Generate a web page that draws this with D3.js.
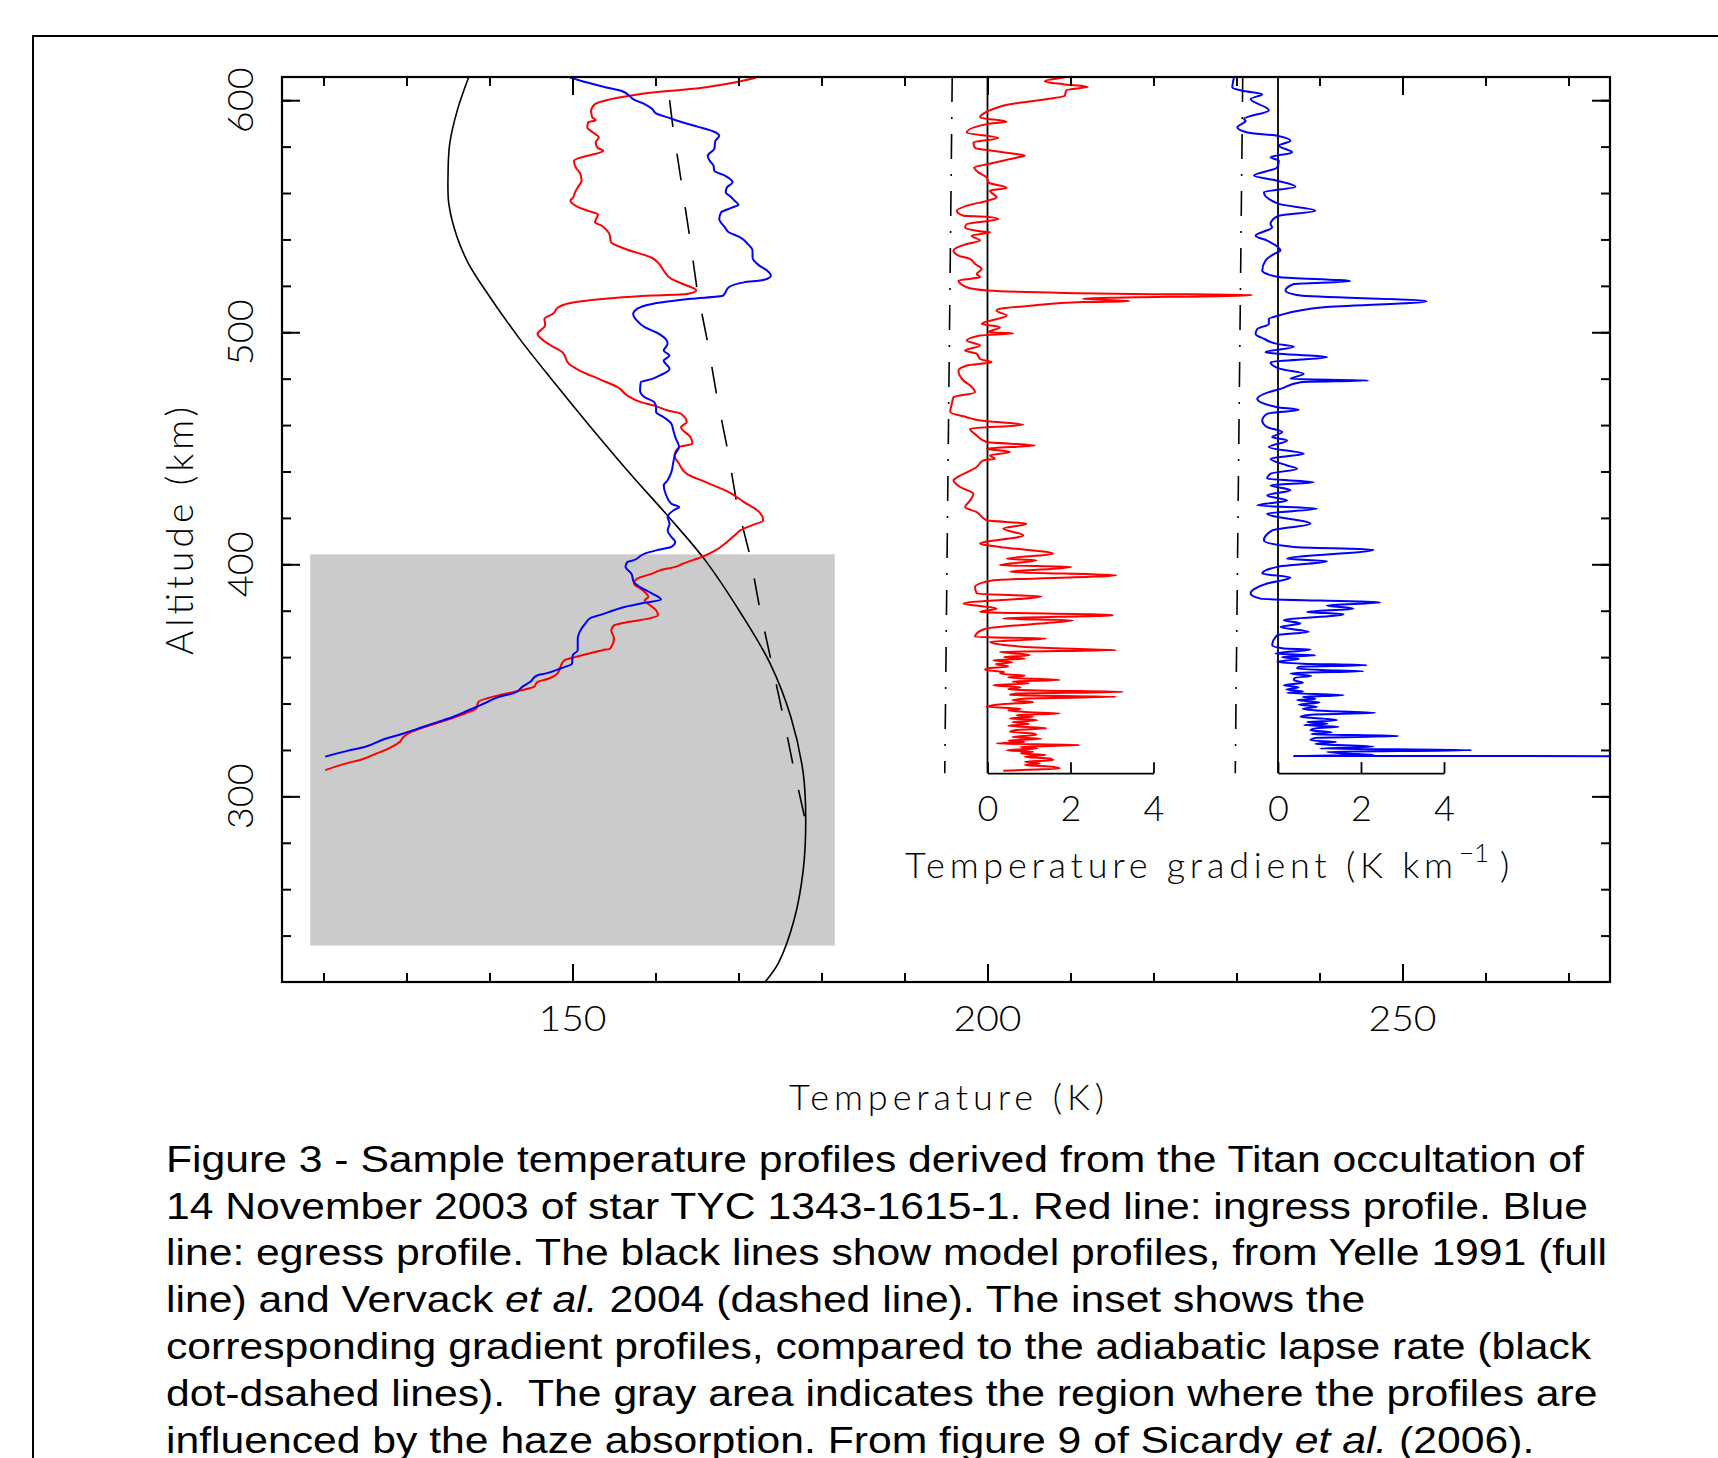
<!DOCTYPE html>
<html>
<head>
<meta charset="utf-8">
<script src="https://cdn.jsdelivr.net/npm/d3@7/dist/d3.min.js"></script>
<style>
  body { margin: 0; background: #fff; }
  .lab { font-family: Lato, 'DejaVu Sans', sans-serif; font-weight: 300; fill: #000; }
  .cap { font-family: 'Liberation Sans', Arial, sans-serif; font-size: 37.5px; fill: #000; white-space: pre; }
</style>
</head>
<body>
<script>
// [altitude km, temperature K]
const ingress = [[609.8,172.15],[607.2,168.83],[604.8,164.22],[603.3,159.61],[601.9,156.85],[600.0,154.08],[598.3,152.70],[595.4,152.24],[592.6,152.38],[591.4,152.79],[590.4,151.87],[588.3,151.78],[586.1,152.47],[584.0,153.16],[581.8,152.79],[579.4,153.07],[578.2,153.71],[576.8,152.70],[576.1,151.78],[573.9,150.17],[571.0,150.40],[568.2,150.95],[565.3,151.09],[562.4,150.63],[560.3,150.30],[558.1,150.07],[556.7,149.75],[554.5,150.40],[552.4,151.78],[550.7,153.07],[547.4,152.70],[545.9,153.53],[544.1,154.08],[542.3,154.45],[538.8,154.64],[535.9,156.39],[532.0,159.61],[529.1,160.53],[526.6,160.99],[523.0,161.91],[520.8,163.30],[518.0,164.91],[516.5,163.76],[515.8,159.61],[514.8,155.0],[513.0,150.40],[510.8,148.32],[507.9,147.63],[505.8,146.62],[503.0,146.71],[499.3,145.79],[497.2,146.25],[494.3,147.40],[491.4,148.78],[486.4,149.57],[483.5,150.86],[479.9,153.16],[476.3,155.47],[472.7,156.62],[469.9,158.23],[468.4,159.84],[466.3,161.46],[464.9,163.07],[461.3,163.76],[459.1,163.07],[454.8,164.22],[451.9,164.45],[450.5,162.84],[446.9,162.29],[443.3,162.84],[439.0,163.76],[435.4,166.06],[431.1,168.83],[426.8,170.67],[422.5,172.51],[418.9,172.98],[416.8,171.60],[414.6,170.21],[413.2,169.75],[410.3,168.83],[408.9,168.37],[406.0,167.22],[403.2,165.60],[400.3,163.30],[398.9,162.38],[397.4,160.53],[396.0,159.61],[393.8,157.77],[391.7,157.40],[388.8,158.46],[385.9,159.15],[384.5,158.69],[382.3,159.38],[380.2,160.07],[378.0,160.30],[376.6,159.15],[375.2,156.85],[373.7,155.0],[371.6,154.68],[368.0,155.0],[363.7,154.54],[363.0,153.62],[360.1,150.40],[358.7,149.01],[355.8,148.55],[352.9,148.18],[350.8,147.17],[349.3,145.79],[347.2,145.33],[345.8,143.95],[343.6,141.18],[340.7,138.65],[337.9,138.41],[335.7,137.03],[332.8,134.73],[330.7,132.89],[327.8,130.58],[325.7,129.66],[323.5,129.20],[320.6,127.82],[318.5,126.43],[315.9,124.59],[314.2,122.75],[311.3,120.21]];

const egress = [[609.8,149.71],[607.6,151.78],[605.5,154.08],[604.0,155.93],[601.9,156.85],[600.5,157.31],[598.3,158.69],[596.2,159.61],[594.3,160.07],[592.6,161.46],[590.4,163.30],[588.5,165.14],[586.5,166.99],[584.7,167.68],[582.5,167.22],[579.0,167.08],[576.1,166.29],[573.9,166.53],[571.8,166.99],[569.6,167.08],[567.5,168.37],[564.6,169.29],[562.4,168.60],[560.3,168.46],[558.4,169.06],[556.7,169.52],[555.0,169.98],[553.8,169.29],[551.7,167.91],[548.8,167.68],[545.2,168.37],[543.1,168.83],[540.9,170.21],[538.0,171.13],[535.2,171.69],[532.3,171.69],[528.7,172.51],[526.6,173.44],[524.4,173.90],[522.5,172.98],[521.5,170.67],[519.4,168.83],[515.8,168.14],[514.4,164.22],[512.2,159.61],[510.1,157.77],[507.9,157.31],[505.0,157.77],[502.2,158.69],[500.0,160.07],[497.1,161.22],[495.0,161.46],[492.1,160.99],[490.0,161.69],[487.8,160.99],[484.2,161.69],[481.4,160.53],[479.9,159.61],[478.5,158.23],[474.9,158.14],[472.0,158.69],[469.9,159.84],[467.7,160.07],[465.6,160.07],[463.4,160.99],[460.6,161.91],[457.7,162.15],[454.8,162.38],[450.5,162.84],[447.6,162.38],[444.1,162.15],[439.7,161.91],[436.2,161.46],[434.0,160.99],[430.4,161.22],[426.1,161.91],[424.7,162.84],[423.2,162.15],[420.4,161.46],[417.5,161.69],[414.6,161.46],[411.8,161.91],[409.6,162.38],[407.5,161.91],[406.0,160.07],[404.6,158.69],[401.7,157.31],[401.0,156.62],[398.9,156.39],[396.0,157.08],[392.4,157.40],[389.5,158.46],[387.4,159.61],[384.8,160.67],[383.4,158.69],[381.3,155.93],[380.2,155.0],[378.0,153.16],[377.0,152.24],[374.5,151.55],[370.9,150.86],[368.0,150.63],[363.0,150.63],[360.8,150.03],[357.2,149.94],[355.1,148.55],[352.9,146.71],[352.2,145.79],[349.3,144.87],[347.2,143.95],[344.6,143.02],[342.9,141.18],[340.0,139.34],[337.1,137.49],[334.3,135.65],[332.1,133.81],[329.9,131.96],[327.1,129.66],[324.7,127.35],[321.4,125.05],[319.5,122.75],[317.1,120.21]];

// model profiles: Yelle 1991 (full), Vervack et al. 2004 (dashed)
const yelle = [[610,137.5],[595.4,136.1],[581.1,135.2],[566.7,135.0],[555.3,135.1],[540.9,136.1],[529.4,137.5],[516.5,139.8],[497.8,143.5],[479.2,147.6],[459.1,152.2],[437.6,157.3],[420.4,161.6],[401.7,166.0],[378.8,170.3],[357.3,173.8],[334.3,176.3],[309.9,177.8],[289.8,178.1],[268.3,177.8],[246.8,176.7],[228.1,174.8],[220,173.2]];
const vervack = [[600,161.7],[588.3,162.1],[565,163.1],[541.6,164.1],[518.7,165.0],[495.3,166.3],[472.3,167.4],[449.1,168.7],[426.1,169.8],[403.5,171.4],[380.2,172.6],[357.3,174.0],[334.3,175.4],[311.3,176.7],[290.5,178.0]];

// [altitude km, gradient K/km]
const ingressGrad = [[609.8,1.86],[608.1,1.38],[606.9,1.82],[605.8,2.42],[604.3,1.90],[601.9,1.86],[599.7,1.10],[598.3,0.54],[596.2,0.14],[594.7,-0.06],[592.6,-0.18],[590.7,0.46],[589.7,-0.02],[586.1,-0.50],[583.7,0.26],[581.8,-0.34],[579.4,-0.30],[578.5,-0.02],[576.8,0.70],[576.1,0.90],[575.4,0.74],[572.5,0.02],[571.0,-0.32],[568.9,-0.22],[566.7,-0.02],[564.6,0.02],[562.2,0.46],[561.0,0.06],[558.1,0.22],[556.7,0],[554.5,-0.50],[552.4,-0.74],[550.2,-0.58],[549.8,-0.02],[548.8,0.26],[546.6,-0.50],[545.2,-0.54],[543.5,-0.18],[543.1,0.06],[541.6,-0.38],[539.5,-0.18],[538.0,-0.50],[535.2,-0.82],[533.0,-0.70],[531.6,-0.42],[529.4,-0.30],[527.3,-0.14],[525.1,-0.26],[523.7,-0.18],[522.3,-0.70],[519.4,-0.50],[518.0,0],[516.5,3.50],[516.1,6.38],[514.4,2.30],[513.4,3.42],[513.0,2.30],[511.5,1.10],[510.1,0.30],[509.3,0.22],[507.2,0.46],[503.6,-0.14],[502.2,0.30],[500.0,0.02],[499.6,0.62],[498.6,-0.18],[496.4,-0.50],[494.3,-0.18],[492.1,-0.54],[490.7,-0.26],[488.5,-0.18],[487.1,0.10],[485.7,-0.50],[483.5,-0.70],[479.2,-0.58],[477.1,-0.42],[474.2,-0.30],[472.0,-0.82],[469.2,-0.86],[465.6,-0.90],[463.4,-0.50],[462.0,-0.18],[460.1,0.86],[458.4,-0.42],[455.5,-0.26],[452.7,-0.02],[451.2,1.14],[449.8,-0.02],[448.4,0.54],[446.9,0.06],[445.5,0.18],[444.8,-0.10],[441.9,-0.26],[436.9,-0.78],[436.2,-0.82],[433.3,-0.66],[430.4,-0.34],[427.5,-0.42],[424.7,-0.54],[422.5,-0.26],[419.0,-0.02],[417.5,0.94],[415.4,0.38],[412.5,0.86],[408.9,-0.18],[407.5,0.30],[404.6,1.58],[402.4,0.46],[401.7,1.18],[399.6,0.30],[398.9,2.02],[396.7,0.54],[395.3,3.10],[393.1,0.14],[390.2,-0.30],[387.4,-0.26],[386.2,1.30],[383.1,-0.58],[380.9,0.22],[379.5,-0.18],[378.1,3.02],[376.6,0.38],[375.9,2.06],[374.5,1.26],[372.3,-0.02],[370.2,-0.26],[368.7,-0.30],[368.0,1.42],[366.6,0.06],[365.1,0.46],[363.7,1.82],[363.0,3.10],[362.3,0.30],[360.8,1.02],[360.0,0.4],[359.3,0.9],[358.7,0.14],[357.8,0.6],[357.0,0.2],[356.0,0.5],[355.2,0.0],[354.4,-0.06],[353.6,0.4],[352.9,0.30],[352.0,0.9],[351.2,0.5],[350.1,1.74],[349.5,0.6],[348.7,1.0],[347.9,0.14],[347.0,0.8],[346.2,0.5],[345.6,1.2],[345.0,3.26],[344.3,0.7],[343.6,0.54],[342.9,3.10],[342.2,0.94],[341.4,0.6],[340.6,1.1],[339.8,0.4],[338.6,-0.02],[337.8,0.8],[337.0,0.5],[336.3,1.0],[335.7,1.74],[335.0,0.7],[334.3,1.1],[333.6,0.54],[332.8,1.2],[332.0,0.6],[331.2,1.0],[330.4,0.5],[329.3,1.42],[328.6,0.7],[327.8,0.54],[327.1,1.1],[326.4,1.18],[325.6,0.6],[324.8,1.3],[324.0,0.5],[323.4,0.9],[322.8,0.22],[322.1,2.22],[321.3,0.8],[320.6,1.2],[319.9,0.46],[319.2,1.1],[318.5,0.8],[317.8,1.4],[317.0,0.9],[316.3,1.5],[315.6,1.58],[314.9,0.9],[314.2,1.26],[313.5,0.9],[312.7,1.6],[312.0,1.74],[311.5,1.0],[311.0,0.38]];

const egressGrad = [[609.8,-1.06],[605.5,-1.10],[604.0,-0.82],[602.6,-0.38],[600.5,-0.66],[595.7,-0.22],[591.9,-0.82],[591.1,-0.78],[588.3,-0.98],[586.1,-0.74],[584.7,-0.02],[582.5,0.30],[580.4,0.02],[577.5,0.34],[575.4,-0.18],[573.9,0.02],[571.0,-0.02],[567.5,-0.58],[565.3,-0.02],[562.7,0.42],[560.3,-0.34],[555.3,0.02],[552.4,0.90],[550.2,0.02],[549.5,-0.06],[546.6,-0.18],[545.2,-0.14],[541.6,-0.54],[539.5,-0.26],[535.2,0.06],[533.7,-0.10],[530.9,-0.30],[526.6,-0.38],[525.1,-0.26],[523.7,0.06],[522.0,1.74],[520.8,0.38],[518.0,0.18],[515.8,0.54],[513.4,3.58],[510.8,1.10],[507.2,0.02],[505.7,-0.22],[503.6,-0.22],[501.4,-0.50],[499.3,-0.54],[497.2,-0.34],[495.0,-0.02],[493.8,0.38],[491.4,-0.30],[489.2,1.18],[487.1,-0.18],[484.2,0.06],[482.1,0.62],[479.9,0.30],[479.2,2.18],[478.5,0.54],[475.6,0.06],[474.2,-0.22],[471.3,-0.50],[467.7,-0.02],[466.6,0.50],[464.9,-0.26],[462.0,-0.38],[459.1,-0.26],[457.0,0.10],[454.8,-0.14],[453.4,0.22],[450.5,-0.22],[447.6,0.62],[445.5,-0.18],[442.6,0.22],[441.2,0.46],[439.0,-0.18],[436.9,-0.26],[435.4,0.86],[434.0,-0.18],[431.9,0.30],[429.7,-0.26],[427.5,0.22],[425.4,-0.50],[424.0,0.94],[421.8,-0.26],[417.5,0.78],[414.6,-0.14],[410.3,-0.34],[407.5,0.38],[406.3,2.30],[402.4,0.22],[401.4,1.18],[398.9,-0.02],[396.0,-0.38],[394.3,0.30],[391.7,-0.26],[387.4,-0.66],[385.2,-0.42],[383.5,2.46],[382.3,1.18],[380.9,1.82],[379.5,0.70],[378.5,1.58],[375.9,0.14],[374.5,0.54],[373.0,0.06],[370.9,0.74],[369.4,-0.02],[365.1,-0.14],[363.7,0.14],[363.3,0.78],[361.5,-0.06],[360.8,0.90],[360.0,0.1],[359.2,0.5],[358.0,-0.02],[357.2,0.6],[356.5,2.14],[355.8,0.5],[355.1,0.46],[354.5,1.0],[353.9,2.06],[353.3,0.6],[352.9,0.30],[352.0,0.8],[351.0,0.4],[350.1,0.38],[349.0,0.6],[347.9,0.14],[347.0,0.5],[346.0,0.2],[345.2,0.6],[344.6,0.22],[343.6,1.58],[342.8,0.6],[342.0,0.9],[341.5,0.46],[340.5,1.0],[339.6,0.5],[338.6,0.94],[337.7,0.6],[336.8,1.2],[336.0,2.34],[335.2,0.8],[334.3,0.54],[333.5,1.1],[332.8,1.42],[332.0,0.7],[331.3,1.2],[330.7,0.62],[330.0,1.46],[329.3,0.9],[328.5,0.78],[327.6,1.3],[326.8,0.8],[326.0,2.90],[325.2,0.9],[324.2,0.78],[323.4,1.4],[322.6,0.9],[321.4,2.30],[320.6,1.02],[319.9,4.66],[319.2,1.18],[318.5,1.6],[317.8,2.30],[317.4,0.38],[317.3,12]];

// adiabatic lapse rate (dot-dashed), haze region (gray)
const lapseRate = [[610, -0.85], [310, -1.03]];
const hazeTemp = [118.4, 181.6];
const hazeAlt = [235.7, 404.3];

const tempTicks = d3.range(120, 280, 10);
const tempLabels = [150, 200, 250];
const altTicks = d3.range(240, 610, 20);
const altLabels = [300, 400, 500, 600];
const gradTicks = [0, 2, 4];

const captionLines = [
  'Figure 3 - Sample temperature profiles derived from the Titan occultation of',
  '14 November 2003 of star TYC 1343-1615-1. Red line: ingress profile. Blue',
  'line: egress profile. The black lines show model profiles, from Yelle 1991 (full',
  'line) and Vervack *et al.* 2004 (dashed line). The inset shows the',
  'corresponding gradient profiles, compared to the adiabatic lapse rate (black',
  'dot-dsahed lines).  The gray area indicates the region where the profiles are',
  'influenced by the haze absorption. From figure 9 of Sicardy *et al.* (2006).'
];

const plot = {left: 282, right: 1610, top: 77, bottom: 982};

const svg = d3.select('body')
  .append('svg')
  .attr('width', 1718)
  .attr('height', 1458);

const x = d3.scaleLinear().domain([115, 275]).range([plot.left, plot.right]);
const y = d3.scaleLinear().domain([220, 610]).range([plot.bottom, plot.top]);
// inset gradient axes: 1 K/km = 5 K of the main axis
const gxRed = d3.scaleLinear().domain([0, 4]).range([x(200), x(220)]);
const gxBlue = d3.scaleLinear().domain([0, 4]).range([x(235), x(255)]);
const insetBottom = 310;

// outer figure frame
svg.append('rect')
  .attr('x', 33).attr('y', 36)
  .attr('width', 1760).attr('height', 1500)
  .attr('fill', 'none').attr('stroke', '#000').attr('stroke-width', 2);

svg.append('clipPath').attr('id', 'clip')
  .append('rect')
  .attr('x', plot.left).attr('y', plot.top)
  .attr('width', plot.right - plot.left).attr('height', plot.bottom - plot.top);

svg.append('rect')
  .attr('x', x(hazeTemp[0]))
  .attr('y', y(hazeAlt[1]))
  .attr('width', x(hazeTemp[1]) - x(hazeTemp[0]))
  .attr('height', y(hazeAlt[0]) - y(hazeAlt[1]))
  .attr('fill', '#cbcbcb');

const plotArea = svg.append('g').attr('clip-path', 'url(#clip)');

const tline = d3.line().x(d => x(d[1])).y(d => y(d[0]));

plotArea.append('path')
  .attr('d', tline.curve(d3.curveCatmullRom)(yelle))
  .attr('fill', 'none').attr('stroke', '#000').attr('stroke-width', 1.6);
tline.curve(d3.curveLinear);

plotArea.append('path')
  .attr('d', tline(vervack))
  .attr('fill', 'none').attr('stroke', '#000').attr('stroke-width', 1.6)
  .attr('stroke-dasharray', '27,27');

tline.curve(d3.curveMonotoneY);
plotArea.append('path')
  .attr('d', tline(ingress))
  .attr('fill', 'none').attr('stroke', '#ff0000').attr('stroke-width', 2);
plotArea.append('path')
  .attr('d', tline(egress))
  .attr('fill', 'none').attr('stroke', '#0000ff').attr('stroke-width', 2);

// inset
function inset(gx, grad, color) {
  plotArea.append('path')
    .attr('d', d3.line().x(d => gx(d[1])).y(d => y(d[0]))(lapseRate))
    .attr('fill', 'none').attr('stroke', '#000').attr('stroke-width', 1.6)
    .attr('stroke-dasharray', '25,15,2,15');
  plotArea.append('line')
    .attr('x1', gx(0)).attr('x2', gx(0))
    .attr('y1', plot.top).attr('y2', y(insetBottom))
    .attr('stroke', '#000').attr('stroke-width', 1.8);
  const ax = svg.append('g')
    .attr('transform', `translate(0,${y(insetBottom)})`)
    .call(d3.axisBottom(gx).tickValues(gradTicks).tickFormat(d3.format('d'))
      .tickSizeInner(-11).tickSizeOuter(0).tickPadding(22));
  ax.select('.domain').attr('stroke-width', 1.8);
  ax.selectAll('line').attr('stroke-width', 1.8);
  ax.selectAll('text').attr('class', 'lab').attr('fill', null)
    .attr('font-family', null).attr('font-size', null).style('font-size', '36px');
  plotArea.append('path')
    .attr('d', d3.line().curve(d3.curveMonotoneY).x(d => gx(d[1])).y(d => y(d[0]))(grad))
    .attr('fill', 'none').attr('stroke', color).attr('stroke-width', 2)
    .attr('stroke-linejoin', 'round');
}
inset(gxRed, ingressGrad, '#ff0000');
inset(gxBlue, egressGrad, '#0000ff');

// ticks on all four sides
function ticks(axisFn, scale, vals, size, tr) {
  svg.append('g').attr('transform', tr)
    .call(axisFn(scale).tickValues(vals).tickSize(-size).tickFormat(''))
    .call(g => g.select('.domain').remove())
    .selectAll('line').attr('stroke-width', 2);
}
ticks(d3.axisBottom, x, tempTicks, 9, `translate(0,${plot.bottom})`);
ticks(d3.axisBottom, x, tempLabels, 18, `translate(0,${plot.bottom})`);
ticks(d3.axisTop, x, tempTicks, 9, `translate(0,${plot.top})`);
ticks(d3.axisTop, x, tempLabels, 18, `translate(0,${plot.top})`);
ticks(d3.axisLeft, y, altTicks, 9, `translate(${plot.left},0)`);
ticks(d3.axisLeft, y, altLabels, 18, `translate(${plot.left},0)`);
ticks(d3.axisRight, y, altTicks, 9, `translate(${plot.right},0)`);
ticks(d3.axisRight, y, altLabels, 18, `translate(${plot.right},0)`);

svg.append('rect')
  .attr('x', plot.left).attr('y', plot.top)
  .attr('width', plot.right - plot.left).attr('height', plot.bottom - plot.top)
  .attr('fill', 'none').attr('stroke', '#000').attr('stroke-width', 2.2);

// tick labels
svg.selectAll('.xlab')
  .data(tempLabels)
  .enter()
  .append('text')
  .attr('class', 'lab')
  .attr('x', d => x(d) - 34)
  .attr('y', 1031)
  .attr('textLength', 68).attr('lengthAdjust', 'spacingAndGlyphs')
  .style('font-size', '36px')
  .text(d => d);

svg.selectAll('.ylab')
  .data(altLabels)
  .enter()
  .append('text')
  .attr('class', 'lab')
  .attr('transform', d => `translate(253,${y(d) + 33}) rotate(-90)`)
  .attr('textLength', 66).attr('lengthAdjust', 'spacingAndGlyphs')
  .style('font-size', '36px')
  .text(d => d);

// axis titles
svg.append('text')
  .attr('class', 'lab')
  .attr('x', 789).attr('y', 1110)
  .attr('textLength', 315).attr('lengthAdjust', 'spacing')
  .style('font-size', '36px')
  .text('Temperature (K)');

svg.append('text')
  .attr('class', 'lab')
  .attr('transform', 'translate(193,655) rotate(-90)')
  .attr('textLength', 248).attr('lengthAdjust', 'spacing')
  .style('font-size', '37px')
  .text('Altitude (km)');

svg.append('text')
  .attr('class', 'lab')
  .attr('x', 905).attr('y', 878)
  .attr('textLength', 548).attr('lengthAdjust', 'spacing')
  .style('font-size', '36px')
  .text('Temperature gradient (K km');
svg.append('text')
  .attr('class', 'lab')
  .attr('x', 1459).attr('y', 862)
  .style('font-size', '26px')
  .text('\u22121');
svg.append('text')
  .attr('class', 'lab')
  .attr('x', 1500).attr('y', 878)
  .style('font-size', '36px')
  .text(')');

// caption (the source text is set wider than plain Arial)
const capScale = 1.138;
const caption = svg.append('g').attr('transform', `scale(${capScale},1)`);
captionLines.forEach((line, i) => {
  const t = caption.append('text')
    .attr('class', 'cap')
    .attr('x', 166 / capScale)
    .attr('y', 1171.7 + i * 46.9);
  line.split('*').forEach((part, j) => {
    t.append('tspan')
      .style('font-style', j % 2 ? 'italic' : 'normal')
      .text(part);
  });
});
</script>
</body>
</html>
